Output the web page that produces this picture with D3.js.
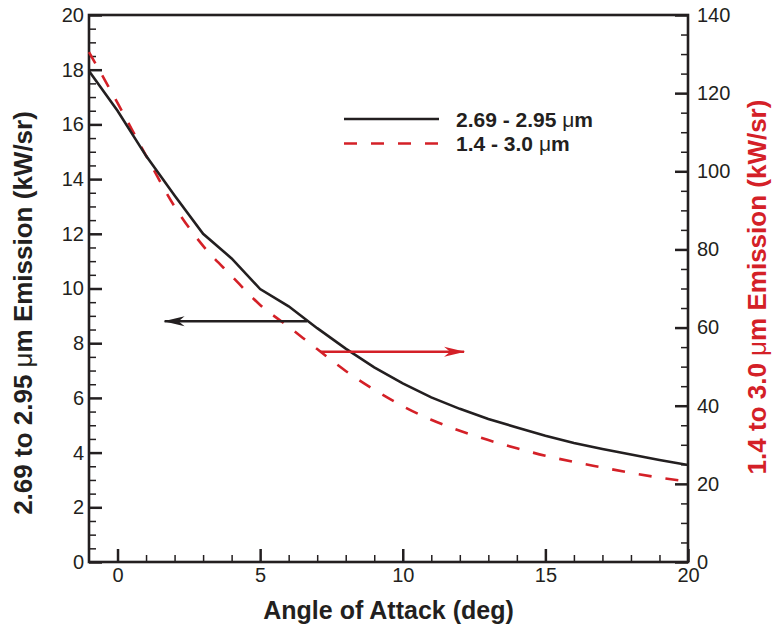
<!DOCTYPE html>
<html><head><meta charset="utf-8">
<script src="https://cdn.jsdelivr.net/npm/d3@7"></script>
<style>body{margin:0;background:#fff}svg{display:block}</style>
</head><body><svg id="c" width="773" height="628"></svg>
<script>
// ---- data ----
const angles = [-1,0,1,2,3,4,5,6,7,8,9,10,11,12,13,14,15,16,17,18,19,20];
const emissionNarrow = [17.95,16.5,14.85,13.4,12.0,11.1,9.98,9.35,8.55,7.8,7.12,6.53,6.02,5.6,5.23,4.92,4.62,4.35,4.13,3.93,3.73,3.55]; // 2.69-2.95 um, left axis
const emissionWide = [130.5,117.5,104.0,91.0,80.9,73.2,65.8,60.2,54.5,48.9,44.1,39.9,36.4,33.6,31.2,29.1,27.2,25.6,24.2,22.8,21.6,20.6]; // 1.4-3.0 um, right axis
const leftTicks = [0,2,4,6,8,10,12,14,16,18,20];
const rightTicks = [0,20,40,60,80,100,120,140];
const bottomTicks = [0,5,10,15,20];
const seriesNames = ["2.69 - 2.95 \u03bcm", "1.4 - 3.0 \u03bcm"];
const arrowLeft = {from: 6.65, to: 1.65, value: 8.8};    // points to left axis
const arrowRight = {from: 7.1, to: 12.15, value: 53.8};  // points to right axis

// ---- layout ----
const svg = d3.select("#c");
const L = 89, R = 688, T = 15, B = 562;
const black = "#231f20", red = "#d42027";
const font = "'Liberation Sans', Arial, Helvetica, sans-serif";

const x = d3.scaleLinear().domain([-1,20]).range([L,R]);
const yL = d3.scaleLinear().domain([0,20]).range([B,T]);
const yR = d3.scaleLinear().domain([0,140]).range([B,T]);

function styleAxis(g, major) {
  g.select(".domain").remove();
  g.selectAll(".tick line").attr("stroke", black).attr("stroke-width", major ? 2.5 : 1.5);
  g.selectAll(".tick text").attr("fill", black).style("font-family", font).style("font-size", "20px");
}

// minor ticks
svg.append("g").attr("transform", `translate(${L},0)`)
  .call(d3.axisLeft(yL).tickValues(d3.range(0,20.01,0.5).filter(v => v % 2 !== 0)).tickFormat("").tickSize(-7))
  .call(g => styleAxis(g,false));
svg.append("g").attr("transform", `translate(${R},0)`)
  .call(d3.axisRight(yR).tickValues(d3.range(0,140.01,5).filter(v => v % 20 !== 0)).tickFormat("").tickSize(-7))
  .call(g => styleAxis(g,false));
svg.append("g").attr("transform", `translate(0,${B})`)
  .call(d3.axisBottom(x).tickValues(d3.range(0,20).filter(v => v % 5 !== 0)).tickFormat("").tickSize(-7))
  .call(g => styleAxis(g,false));

// major ticks + labels
svg.append("g").attr("transform", `translate(${L},0)`)
  .call(d3.axisLeft(yL).tickValues(leftTicks).tickFormat(d3.format("d")).tickSizeInner(-13).tickSizeOuter(0).tickPadding(5))
  .call(g => styleAxis(g,true));
svg.append("g").attr("transform", `translate(${R},0)`)
  .call(d3.axisRight(yR).tickValues(rightTicks).tickFormat(d3.format("d")).tickSizeInner(-13).tickSizeOuter(0).tickPadding(9))
  .call(g => styleAxis(g,true));
svg.append("g").attr("transform", `translate(0,${B})`)
  .call(d3.axisBottom(x).tickValues(bottomTicks).tickFormat(d3.format("d")).tickSizeInner(-13).tickSizeOuter(0).tickPadding(6))
  .call(g => styleAxis(g,true));

// frame
svg.append("rect").attr("x", L).attr("y", T).attr("width", R-L).attr("height", B-T)
  .attr("fill", "none").attr("stroke", black).attr("stroke-width", 2.6);

// series
const pts = angles.map((a,i) => ({a, n: emissionNarrow[i], w: emissionWide[i]}));
svg.append("path").datum(pts)
  .attr("d", d3.line().x(d => x(d.a)).y(d => yR(d.w)).curve(d3.curveMonotoneX))
  .attr("fill","none").attr("stroke", red).attr("stroke-width", 2.6).attr("stroke-dasharray","13,14");
svg.append("path").datum(pts)
  .attr("d", d3.line().x(d => x(d.a)).y(d => yL(d.n)))
  .attr("fill","none").attr("stroke", black).attr("stroke-width", 2.6);

// arrows
function arrow(x1, x2, yy, color) {
  svg.append("line").attr("x1", x1).attr("x2", x2).attr("y1", yy).attr("y2", yy)
    .attr("stroke", color).attr("stroke-width", 2.4);
  const dir = Math.sign(x2 - x1);
  const p = [[x2 + dir*1, yy], [x2 - dir*20, yy - 5], [x2 - dir*14, yy], [x2 - dir*20, yy + 5]];
  svg.append("path").attr("d", "M" + p.join("L") + "Z").attr("fill", color);
}
arrow(x(arrowLeft.from), x(arrowLeft.to), yL(arrowLeft.value), black);
arrow(x(arrowRight.from), x(arrowRight.to), yR(arrowRight.value), red);

// legend
const leg = svg.append("g");
[[black, null, 119], [red, "13,14", 143.5]].forEach(([c, dash, yy], i) => {
  leg.append("line").attr("x1", 344).attr("x2", 439).attr("y1", yy).attr("y2", yy)
    .attr("stroke", c).attr("stroke-width", 2.6).attr("stroke-dasharray", dash);
  const parts = seriesNames[i].split("\u03bc");
  const t = leg.append("text").attr("x", 456).attr("y", yy).attr("dy", "0.36em")
    .attr("fill", black).style("font-family", font).style("font-size", "21px").style("font-weight", "bold");
  t.append("tspan").text(parts[0]);
  t.append("tspan").style("font-weight", "normal").text("\u03bc");
  t.append("tspan").text(parts[1]);
});

// axis titles
function title(xx, yy, rot, color, pre, post, size) {
  const t = svg.append("text").attr("transform", `translate(${xx},${yy}) rotate(${rot})`)
    .attr("text-anchor", "middle").attr("fill", color)
    .style("font-family", font).style("font-size", size + "px").style("font-weight", "bold");
  t.append("tspan").text(pre);
  if (post !== null) {
    t.append("tspan").style("font-weight", "normal").text("\u03bc");
    t.append("tspan").text(post);
  }
}
title((L+R)/2, 619, 0, black, "Angle of Attack (deg)", null, 25);
title(32, 313, -90, black, "2.69 to 2.95 ", "m Emission (kW/sr)", 26);
title(766, 287, -90, red, "1.4 to 3.0 ", "m Emission (kW/sr)", 26);
</script>
</body></html>
